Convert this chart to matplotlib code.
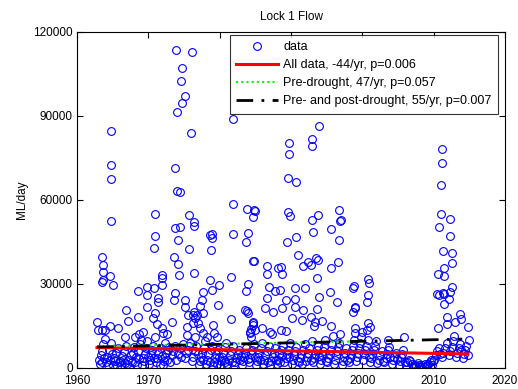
import matplotlib
matplotlib.use("Agg")
import matplotlib.pyplot as plt
import numpy as np

plt.rcParams['font.family'] = ['Liberation Sans', 'DejaVu Sans']

# ---- data: peaks / mid-range flows (decimal year, thousand ML/day) ----
peak_years = [
    1962.76, 1963.0, 1963.5, 1963.9, 1964.6, 1963.5, 1963.6, 1963.65, 1963.5, 1963.7,
    1964.6, 1965.0, 1964.8, 1964.8, 1964.8, 1964.8, 1965.8, 1966.9, 1967.2, 1966.7,
    1968.55, 1968.55, 1968.1, 1968.7, 1969.3, 1969.8, 1969.8, 1969.8, 1970.7, 1970.8,
    1970.8, 1970.9, 1970.9, 1970.9, 1971.2, 1971.35, 1971.35, 1971.9, 1971.9, 1971.9,
    1971.9, 1972.1, 1972.3, 1972.6, 1973.3,
    1973.6, 1973.7, 1973.7, 1973.55, 1973.8, 1973.9, 1974.0, 1974.0, 1974.2, 1974.2,
    1974.3, 1974.5, 1974.5, 1974.6, 1974.7, 1974.7, 1975.1, 1975.1, 1975.2, 1975.4,
    1975.4, 1975.6, 1975.7, 1975.75, 1976.0, 1976.1, 1976.3, 1976.3, 1976.35, 1976.35,
    1976.45, 1976.45, 1976.5, 1976.5, 1976.8, 1977.0, 1977.2, 1977.2, 1977.5, 1977.7,
    1977.7, 1977.7, 1978.2,
    1978.65, 1978.7, 1978.8, 1978.9, 1978.9, 1978.9, 1979.1, 1979.2, 1979.6, 1979.8,
    1979.9, 1981.6, 1981.6, 1981.8, 1981.8, 1981.8, 1983.55, 1983.65, 1983.7, 1983.8,
    1983.8, 1984.0, 1984.0, 1984.0, 1984.25, 1984.25, 1984.4, 1984.4, 1984.7, 1984.7,
    1984.7, 1984.7, 1984.7, 1984.8, 1984.8, 1984.95, 1984.95, 1985.9, 1986.35, 1986.7,
    1986.7, 1986.7, 1986.9, 1987.05, 1987.4, 1987.5, 1987.75, 1988.2, 1988.45, 1988.55,
    1988.6, 1988.7, 1988.8, 1989.3, 1989.3,
    1989.5, 1989.55, 1989.6, 1989.7, 1989.7, 1989.9, 1990.1, 1990.5, 1990.5, 1990.55,
    1990.7, 1990.7, 1990.95, 1991.6, 1991.7, 1991.7, 1991.95, 1992.4, 1992.8, 1992.8,
    1992.9, 1992.9, 1993.0, 1993.1, 1993.2, 1993.35, 1993.45, 1993.6, 1993.6, 1993.75,
    1993.75, 1993.9, 1993.95, 1994.3, 1995.5, 1995.6, 1995.6, 1995.6, 1996.4, 1996.65,
    1996.7, 1996.7, 1996.9, 1997.0, 1998.7, 1998.7, 1998.9, 1998.95, 1998.95, 1998.95,
    2000.6, 2000.65, 2000.8, 2000.8, 2000.8, 2000.95, 2001.05, 2003.65, 2005.9,
    2010.5, 2010.6, 2010.6, 2010.7, 2010.8, 2011.0, 2011.0, 2011.2, 2011.2, 2011.3,
    2011.3, 2011.4, 2011.4, 2011.5, 2011.5, 2011.8, 2011.8, 2012.1, 2012.3, 2012.3,
    2012.3, 2012.5, 2012.6, 2012.6, 2013.0, 2013.7, 2013.9, 2014.8,
]
peak_flows = [
    16.5, 13.6, 13.6, 13.6, 15.0, 39.5, 36.8, 34.4, 30.6, 31.4,
    32.8, 29.6, 84.6, 72.6, 67.6, 52.4, 14.2, 20.7, 16.9, 11.2,
    18.3, 27.5, 11.2, 12.0, 13.0, 21.7, 29.0, 26.0, 17.7, 42.7,
    28.6, 55.1, 47.1, 19.5, 15.7, 25.0, 23.7, 14.2, 33.2, 32.0,
    29.6, 12.4, 8.8, 12.0, 16.5,
    39.7, 71.4, 26.9, 24.3, 50.0, 113.4, 91.6, 63.1, 45.6, 37.1,
    33.2, 62.8, 50.3, 102.5, 107.1, 94.7, 97.0, 24.3, 21.7, 11.8,
    14.7, 18.9, 42.4, 54.5, 83.9, 112.8, 18.9, 16.0, 33.9, 20.1,
    52.1, 50.7, 17.7, 11.2, 19.0, 16.0, 14.2, 22.3, 24.3, 27.2,
    19.6, 12.4, 11.2,
    31.4, 47.6, 42.1, 46.3, 47.8, 27.8, 15.4, 12.4, 11.2, 22.5,
    29.6, 32.4, 17.5, 89.0, 48.0, 58.6, 20.7, 45.1, 27.6, 56.7,
    20.3, 48.2, 19.7, 29.9, 13.0, 12.4, 13.9, 11.2, 54.0, 38.3,
    16.0, 15.4, 16.5, 56.3, 38.2, 56.2, 13.6, 14.2, 21.3, 36.4,
    33.6, 25.1, 29.0, 13.0, 12.1, 20.1, 27.5, 35.6, 27.8, 13.6,
    36.0, 33.6, 21.3, 24.3, 13.3,
    44.9, 67.8, 55.8, 80.4, 76.5, 54.4, 17.7, 24.6, 21.9, 28.4,
    66.4, 46.7, 40.4, 17.1, 36.4, 20.7, 28.4, 37.8, 36.8, 18.3,
    81.9, 52.9, 79.3, 48.4, 15.0, 16.5, 39.2, 32.3, 20.9, 54.5,
    38.6, 86.3, 25.2, 16.8, 27.2, 15.0, 49.7, 35.8, 23.7, 37.9,
    56.5, 45.6, 52.5, 52.7, 28.4, 20.1, 29.4, 21.3, 14.2, 21.9,
    13.6, 23.4, 31.7, 26.1, 16.2, 30.2, 14.5, 10.0, 11.0,
    26.3, 33.6, 14.2, 26.1, 50.3, 65.2, 54.9, 78.3, 73.3, 41.8,
    26.7, 26.3, 22.7, 35.6, 33.0, 18.3, 15.7, 24.5, 53.2, 47.1,
    27.2, 29.0, 41.2, 37.4, 16.5, 19.3, 17.4, 14.5,
]

# ---- data: low flows per year (thousand ML/day) ----
low_flows = {
    1963: [3.0, 1.5, 4.5, 2.2, 6.0, 8.5, 3.5, 10.2],
    1964: [2.0, 4.0, 1.2, 6.5, 3.0, 9.0, 5.0],
    1965: [1.0, 3.5, 2.5, 5.5, 0.8, 7.0, 2.0],
    1966: [2.5, 1.0, 4.2, 3.0, 6.0, 1.8, 8.0],
    1967: [1.5, 3.0, 0.5, 4.5, 2.2, 5.5, 7.5],
    1968: [2.0, 4.0, 1.0, 6.0, 3.2, 8.5, 10.0],
    1969: [1.2, 3.5, 2.5, 5.0, 7.0, 9.5, 4.0],
    1970: [1.5, 2.8, 4.5, 6.5, 8.0, 3.6, 11.0],
    1971: [2.0, 3.5, 5.5, 1.0, 7.0, 4.2],
    1972: [1.0, 2.5, 4.0, 5.5, 3.0, 6.5, 7.5],
    1973: [2.0, 4.5, 6.0, 8.0, 3.0],
    1974: [5.0, 7.0, 4.0, 8.5],
    1975: [3.5, 5.5, 6.5, 7.8, 9.0],
    1976: [2.5, 4.0, 6.0, 8.0, 5.0],
    1977: [1.0, 2.5, 4.0, 5.5, 3.0, 7.0, 9.5],
    1978: [1.5, 3.0, 5.0, 2.0, 6.5, 8.0],
    1979: [0.8, 2.2, 3.5, 5.0, 1.5, 6.5, 4.0],
    1980: [1.0, 2.5, 4.0, 5.5, 3.0, 7.5, 2.0, 9.0],
    1981: [1.5, 3.0, 4.5, 6.0, 2.2, 8.0],
    1982: [1.0, 2.0, 3.5, 5.0, 6.5, 2.8, 4.2],
    1983: [1.2, 2.5, 4.0, 5.5, 7.0, 3.2],
    1984: [2.0, 3.5, 5.0, 6.5, 8.5, 4.0],
    1985: [1.0, 2.5, 4.0, 5.5, 3.0, 7.0, 9.0],
    1986: [1.5, 3.0, 4.5, 6.0, 2.0, 8.0],
    1987: [1.0, 2.5, 4.0, 5.5, 7.0, 3.0],
    1988: [1.5, 3.0, 5.0, 2.2, 6.5, 4.2, 8.0],
    1989: [2.0, 3.5, 5.0, 6.5, 4.0, 9.0],
    1990: [1.5, 3.0, 4.5, 6.0, 7.5, 2.5],
    1991: [2.0, 3.5, 5.0, 1.5, 6.5, 8.5],
    1992: [2.5, 4.0, 5.5, 7.0, 3.0, 9.5],
    1993: [2.0, 3.5, 5.0, 6.5, 8.0, 4.2],
    1994: [1.5, 3.0, 4.5, 6.0, 7.5, 10.0, 2.5],
    1995: [2.0, 3.5, 5.0, 6.5, 8.5, 11.5],
    1996: [1.5, 3.0, 4.5, 6.0, 7.5, 9.0, 12.0],
    1997: [1.0, 2.5, 4.0, 5.5, 7.0, 3.0],
    1998: [2.0, 3.5, 5.0, 6.5, 8.0, 10.0, 12.5],
    1999: [2.5, 4.0, 5.5, 7.0, 9.0, 11.0, 13.0],
    2000: [3.0, 5.0, 6.5, 8.0, 10.0, 4.0],
    2001: [2.0, 3.5, 5.0, 6.5, 8.0, 9.5],
    2002: [1.8, 3.0, 4.5, 6.0, 2.5],
    2003: [2.0, 3.5, 5.0, 6.5, 7.5, 4.0],
    2004: [1.5, 2.8, 4.0, 5.5, 3.2],
    2005: [1.2, 2.5, 3.8, 5.0, 6.5, 2.0],
    2006: [1.0, 2.0, 3.0, 2.5, 1.5],
    2007: [0.4, 0.8, 1.2, 0.6, 1.8, 1.0],
    2008: [0.2, 0.5, 0.9, 0.4, 1.3, 0.7],
    2009: [0.8, 1.5, 2.2, 3.0, 1.2, 2.6],
    2010: [3.0, 4.5, 6.0, 7.0, 5.0],
    2011: [4.0, 5.5, 7.0, 9.0],
    2012: [4.5, 6.0, 7.5, 9.5, 11.5],
    2013: [4.0, 5.5, 7.0, 8.5, 6.5],
    2014: [3.5, 5.0, 6.5, 8.0, 4.5, 10.0],
}

# ---- trend lines (ML/day) ----
trend_all = {"start": 1962.8, "end": 2014.8, "y0": 7300, "slope": -44}
trend_pre = {"start": 1962.8, "end": 1999.6, "y0": 7800, "slope": 47}
trend_prepost = {"start": 1962.8, "end": 2014.0, "y0": 7500, "slope": 55}

labels = ["data", "All data, -44/yr, p=0.006", "Pre-drought, 47/yr, p=0.057",
          "Pre- and post-drought, 55/yr, p=0.007"]

# ---- assemble ----
xs = list(peak_years)
ys = [v * 1000 for v in peak_flows]
for yr, vals in low_flows.items():
    n = len(vals)
    for i, v in enumerate(vals):
        xs.append(yr + (i + 0.5) / n)
        ys.append(v * 1000)

fig = plt.figure(figsize=(5.18, 3.89), dpi=100)
ax = fig.add_axes([77 / 518, 21 / 389, 428 / 518, 336 / 389])

h_data, = ax.plot(xs, ys, 'o', ls='none', mfc='none', mec='#0000ff', ms=5.6, mew=0.8)

def tline(t, **kw):
    xx = np.array([t["start"], t["end"]])
    yy = t["y0"] + t["slope"] * (xx - t["start"])
    return ax.plot(xx, yy, **kw)[0]

h_all = tline(trend_all, color='#ff0000', lw=2.2)
h_pre = tline(trend_pre, color='#00ff00', lw=1.5, ls=(0, (1, 1.5)))
h_pp = tline(trend_prepost, color='black', lw=2.0, ls=(0, (6, 3, 1, 3)))

ax.set_xlim(1960, 2020)
ax.set_ylim(0, 120000)
ax.set_xticks([1960, 1970, 1980, 1990, 2000, 2010, 2020])
ax.set_yticks([0, 30000, 60000, 90000, 120000])
ax.tick_params(direction='in', top=True, right=True, length=4, width=0.8,
               labelsize=8.5, colors='black', pad=3)
ax.tick_params(axis='x', pad=5)
for s in ax.spines.values():
    s.set_linewidth(0.8)

ax.set_title("Lock 1 Flow", fontsize=8.5, pad=9)
ax.set_ylabel("ML/day", fontsize=8.5, labelpad=4)

leg = ax.legend([h_data, h_all, h_pre, h_pp], labels, loc='upper right',
                bbox_to_anchor=((498 - 77) / 428, (368 - 35) / 336),
                borderaxespad=0, fontsize=9, frameon=True, fancybox=False,
                edgecolor='black', handlelength=3.4, handletextpad=0.4,
                labelspacing=0.48, borderpad=0.5, numpoints=1)
leg.get_frame().set_linewidth(0.8)

fig.savefig("out.png", dpi=100, facecolor='white')
